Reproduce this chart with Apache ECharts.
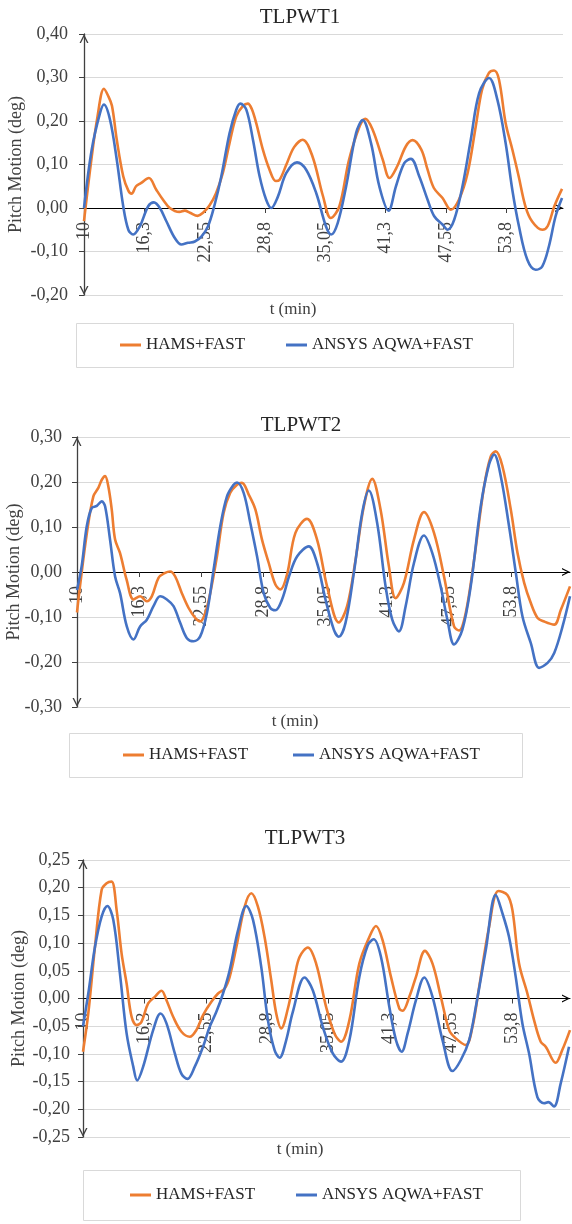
<!DOCTYPE html>
<html>
<head>
<meta charset="utf-8">
<script src="https://cdn.jsdelivr.net/npm/echarts@6/dist/echarts.min.js"></script>
<style>
html,body{margin:0;padding:0;background:#fff;}
#c{width:572px;height:1224px;}
</style>
</head>
<body>
<div id="c"></div>
<script>
// ---------- DATA ----------
const chartTitles = ['TLPWT1', 'TLPWT2', 'TLPWT3'];
const seriesNames = ['HAMS+FAST', 'ANSYS AQWA+FAST'];
const xTickValues = [10, 16.3, 22.55, 28.8, 35.05, 41.3, 47.55, 53.8];
const xTickLabels = ['10', '16,3', '22,55', '28,8', '35,05', '41,3', '47,55', '53,8'];
const xMin = 10, xMax = 59.7;
const yMin = [-0.2, -0.3, -0.25];
const yMax = [0.4, 0.3, 0.25];
const yStep = [0.1, 0.1, 0.05];

// TLPWT1
const t1Hams = [10,10.7,11.4,12.07,12.5,12.9,13.4,14.07,14.6,14.93,15.4,15.9,16.73,17.5,18.2,18.9,19.9,20.45,21.0,21.8,22.35,23.0,23.7,24.4,25.1,25.8,26.5,27.0,27.4,27.87,28.56,29.25,29.9,30.3,31.0,31.8,32.7,33.7,34.8,35.6,36.5,37.5,38.6,39.2,39.95,41.0,41.7,42.5,43.4,44.1,45.0,45.65,46.3,47.2,48.06,48.9,49.8,50.65,51.3,52.0,52.55,53.06,53.75,54.45,55.1,55.8,56.5,57.55,58.1,58.8,59.6];
const v1Hams = [-0.03,0.10,0.21,0.274,0.258,0.235,0.157,0.073,0.04,0.033,0.05,0.057,0.069,0.042,0.019,0.0,-0.009,-0.006,-0.011,-0.018,-0.011,0.005,0.034,0.08,0.149,0.211,0.235,0.24,0.228,0.195,0.134,0.088,0.062,0.065,0.1,0.14,0.157,0.119,0.027,-0.023,0.004,0.111,0.188,0.205,0.18,0.111,0.069,0.096,0.142,0.156,0.134,0.088,0.046,0.023,-0.004,0.019,0.08,0.188,0.272,0.31,0.316,0.295,0.195,0.134,0.073,0.004,-0.031,-0.05,-0.042,0.004,0.044];
const t1Aqwa = [10,10.8,11.66,12.07,12.7,13.4,14.07,14.6,15.1,15.8,16.66,17.25,17.87,18.56,19.42,20.1,20.8,21.5,22.2,22.87,23.56,24.25,25.1,25.8,26.22,26.84,27.53,28.22,28.9,29.43,30.1,30.98,32.1,33.05,34.1,35.1,35.64,36.33,37.2,38.23,38.92,39.78,40.64,41.6,42.37,43.23,43.92,44.78,45.65,46.34,47.2,47.72,48.41,49.27,50.13,51.0,52.03,52.89,53.75,54.44,55.13,56.0,56.86,57.55,58.24,58.93,59.6];
const v1Aqwa = [0.0,0.134,0.218,0.238,0.203,0.111,0.004,-0.05,-0.061,-0.042,0.004,0.013,0.0,-0.031,-0.069,-0.084,-0.08,-0.077,-0.065,-0.042,0.008,0.073,0.172,0.226,0.24,0.226,0.157,0.073,0.019,0.0,0.025,0.08,0.105,0.088,0.034,-0.042,-0.061,-0.034,0.05,0.172,0.202,0.149,0.05,-0.006,0.05,0.103,0.113,0.073,0.019,-0.019,-0.038,-0.05,-0.027,0.05,0.157,0.264,0.299,0.249,0.149,0.042,-0.042,-0.119,-0.142,-0.134,-0.088,-0.019,0.023];

// TLPWT2
const t2Hams = [10,10.3,11.0,11.65,12.15,12.5,12.83,13.16,13.5,13.84,14.34,15.0,15.7,16.36,17.04,17.54,18.22,18.89,19.39,19.9,20.57,21.25,21.92,22.42,22.93,23.43,24.11,24.78,25.45,26.13,26.63,27.31,27.98,28.65,29.33,30.0,30.5,31.18,32.02,33.19,34.2,35.21,36.39,37.23,38.08,38.92,39.76,40.6,41.44,42.12,42.96,43.97,44.98,45.99,47.0,48.01,48.51,49.19,50.03,51.04,51.71,52.22,52.89,53.73,54.41,55.08,55.75,56.43,57.1,58.11,58.78,59.7];
const v2Hams = [-0.09,-0.032,0.087,0.168,0.187,0.205,0.213,0.19,0.139,0.072,0.042,-0.017,-0.061,-0.054,-0.065,-0.054,-0.013,-0.002,0.001,-0.01,-0.047,-0.08,-0.102,-0.11,-0.091,-0.047,0.035,0.131,0.176,0.194,0.198,0.172,0.139,0.072,0.02,-0.028,-0.039,-0.005,0.087,0.118,0.072,-0.032,-0.112,-0.076,0.027,0.146,0.207,0.139,0.013,-0.058,-0.024,0.072,0.133,0.087,-0.01,-0.121,-0.13,-0.091,0.027,0.19,0.257,0.268,0.235,0.139,0.042,-0.024,-0.069,-0.102,-0.11,-0.117,-0.084,-0.032];
const t2Aqwa = [10,10.47,10.98,11.48,12.0,12.49,12.83,13.33,13.84,14.34,15.02,15.69,16.36,17.04,17.71,18.38,19.06,19.73,20.4,21.08,21.75,22.42,23.1,23.77,24.44,25.12,25.79,26.13,26.8,27.47,28.15,28.82,29.49,30.0,30.67,31.4,32.2,33.36,34.2,35.05,35.89,36.39,37.07,37.91,38.75,39.42,40.26,41.11,41.78,42.45,43.13,43.97,44.98,45.82,46.66,47.34,48.01,48.85,49.69,50.7,51.54,52.05,52.72,53.56,54.24,54.91,55.75,56.59,57.44,58.11,58.95,59.7];
const v2Aqwa = [-0.04,0.013,0.101,0.142,0.147,0.157,0.146,0.072,-0.01,-0.047,-0.121,-0.15,-0.121,-0.106,-0.076,-0.054,-0.061,-0.076,-0.113,-0.147,-0.154,-0.143,-0.091,0.005,0.101,0.168,0.194,0.199,0.176,0.109,0.035,-0.047,-0.08,-0.085,-0.061,-0.008,0.035,0.057,0.02,-0.061,-0.128,-0.144,-0.113,-0.002,0.131,0.181,0.109,-0.032,-0.106,-0.132,-0.076,0.02,0.081,0.042,-0.032,-0.106,-0.161,-0.128,-0.032,0.146,0.239,0.261,0.213,0.101,-0.002,-0.099,-0.158,-0.213,-0.202,-0.18,-0.121,-0.054];

// TLPWT3
const t3Hams = [10,10.54,11.22,11.9,12.41,12.92,13.43,13.94,14.45,14.96,15.47,15.97,16.65,17.33,18.01,18.52,19.2,20.05,20.9,21.57,22.25,23.1,23.78,24.46,24.97,25.65,26.5,27.18,27.85,28.53,29.21,29.72,30.23,30.91,31.59,32.1,32.95,33.79,34.81,35.66,36.34,37.19,38.2,39.22,39.9,40.58,41.43,42.28,42.62,43.3,43.98,44.89,45.67,46.52,47.37,48.05,49.07,49.75,50.43,51.45,52.4,53.31,53.82,54.5,55.35,56.03,56.71,57.22,58.24,58.91,59.7];
const v3Hams = [-0.096,-0.027,0.093,0.196,0.208,0.211,0.16,0.081,0.027,-0.033,-0.048,-0.042,-0.009,0.003,0.014,-0.003,-0.033,-0.06,-0.069,-0.057,-0.03,-0.006,0.009,0.018,0.039,0.093,0.166,0.19,0.166,0.111,0.033,-0.027,-0.054,-0.018,0.039,0.075,0.092,0.063,-0.015,-0.063,-0.078,-0.039,0.063,0.111,0.131,0.105,0.039,-0.018,-0.022,0.003,0.039,0.086,0.063,0.003,-0.057,-0.072,-0.084,-0.051,0.021,0.13,0.194,0.187,0.16,0.063,0.009,-0.039,-0.078,-0.087,-0.116,-0.093,-0.057];
const t3Aqwa = [10,10.54,11.22,11.9,12.48,13.09,13.77,14.45,15.13,15.53,16.14,17.16,17.91,18.52,19.37,20.05,20.66,21.41,22.25,22.93,23.61,24.29,24.97,25.82,26.67,27.35,28.19,28.87,29.55,30.06,30.74,31.4,32.61,33.45,34.47,35.49,36.34,37.19,38.2,39.06,39.67,40.41,41.26,41.94,42.52,43.13,43.98,44.83,45.67,46.69,47.71,48.56,49.41,50.09,51.1,52.12,52.8,53.48,54.16,54.84,55.52,56.37,57.05,57.49,58.06,58.74,59.6];
const v3Aqwa = [-0.05,0.009,0.093,0.148,0.167,0.142,0.045,-0.063,-0.123,-0.148,-0.123,-0.057,-0.027,-0.045,-0.099,-0.136,-0.145,-0.123,-0.087,-0.051,-0.024,0.009,0.051,0.123,0.167,0.142,0.057,-0.039,-0.093,-0.107,-0.075,-0.025,0.038,0.015,-0.051,-0.099,-0.114,-0.075,0.039,0.096,0.107,0.075,-0.015,-0.075,-0.096,-0.063,-0.003,0.038,0.003,-0.075,-0.131,-0.111,-0.075,-0.015,0.087,0.187,0.154,0.111,0.039,-0.045,-0.099,-0.178,-0.189,-0.187,-0.195,-0.154,-0.087];

// ---------- BUILD ----------
const zip = (ts, vs) => ts.map((t, i) => [t, vs[i]]);
const hamsData = [zip(t1Hams, v1Hams), zip(t2Hams, v2Hams), zip(t3Hams, v3Hams)];
const aqwaData = [zip(t1Aqwa, v1Aqwa), zip(t2Aqwa, v2Aqwa), zip(t3Aqwa, v3Aqwa)];

const FONT = "'Liberation Serif','Times New Roman',serif";
const TXT = '#404040';
const ORANGE = '#ED7D31', BLUE = '#4472C4';
const chevron = 'path://M0,10 L5,0 L10,10 L8.4,10 L5,3.2 L1.6,10 Z';

const layout = [
  {grid:{left:84, top:34, right:9, height:261}, nameGap:59, labMargin:16, title:[300,17], xname:[293,310], box:[76,323,437,44], leg:[120,286,345]},
  {grid:{left:77, top:437, right:2, height:270}, nameGap:54, labMargin:15, title:[301,425], xname:[295,722], box:[69,733,453,44], leg:[123,293,755]},
  {grid:{left:83, top:860, right:2, height:277}, nameGap:55, labMargin:13, title:[305,838], xname:[300,1150], box:[83,1170,437,50], leg:[130,296,1195]}
];

const grids = [], xAxes = [], yAxes = [], series = [], legends = [], graphics = [];
layout.forEach((L, i) => {
  grids.push(Object.assign({containLabel:false, outerBoundsMode:'none'}, L.grid));
  // distance (px) from plot bottom up to the zero line, so the category axis sits on y = 0
  const zeroOffset = -(-yMin[i]) / (yMax[i] - yMin[i]) * L.grid.height;
  xAxes.push({
    type:'value', gridIndex:i, min:xMin, max:xMax, position:'bottom', offset:zeroOffset,
    axisLine:{show:true, onZero:false, lineStyle:{color:'#000', width:1},
      symbol:['none', chevron], symbolSize:[9,8], symbolOffset:[0,-4]},
    axisTick:{show:true, customValues:xTickValues, length:5, lineStyle:{color:'#404040'}},
    axisLabel:{show:true, customValues:xTickValues, rotate:90, margin:14,
      fontFamily:FONT, fontSize:18, color:TXT,
      formatter:(v) => { const k = xTickValues.findIndex(x => Math.abs(x - v) < 1e-6); return k >= 0 ? xTickLabels[k] : ''; }},
    splitLine:{show:false}
  });
  yAxes.push({
    type:'value', gridIndex:i, min:yMin[i], max:yMax[i], interval:yStep[i],
    name:'Pitch Motion (deg)', nameLocation:'middle', nameGap:L.nameGap, nameMoveOverlap:false,
    nameTextStyle:{fontFamily:FONT, fontSize:18, color:TXT},
    axisLine:{show:true, onZero:false, lineStyle:{color:'#404040', width:1.3},
      symbol:[chevron, chevron], symbolSize:[10,9], symbolOffset:[4.5,-4.5]},
    axisTick:{show:true, length:5, lineStyle:{color:'#404040'}},
    axisLabel:{fontFamily:FONT, fontSize:18, color:TXT, margin:L.labMargin,
      formatter:(v) => { if (Math.abs(v) < 1e-9) v = 0; return v.toFixed(2).replace('.', ','); }},
    splitLine:{show:true, lineStyle:{color:'#d9d9d9', width:1}}
  });
  series.push({
    name:seriesNames[0], type:'line', xAxisIndex:i, yAxisIndex:i, data:hamsData[i],
    showSymbol:false, smooth:0.35, lineStyle:{color:ORANGE, width:2.6}, itemStyle:{color:ORANGE}, z:2
  });
  series.push({
    name:seriesNames[1], type:'line', xAxisIndex:i, yAxisIndex:i, data:aqwaData[i],
    showSymbol:false, smooth:0.35, lineStyle:{color:BLUE, width:2.6}, itemStyle:{color:BLUE}, z:3
  });
  const legText = {fontFamily:FONT, fontSize:17, color:'#262626', lineHeight:20};
  legends.push({data:[seriesNames[0]], left:L.leg[0], top:L.leg[2]-10, padding:0, icon:'rect', itemWidth:21, itemHeight:3, textStyle:legText, selectedMode:false});
  legends.push({data:[seriesNames[1]], left:L.leg[1], top:L.leg[2]-10, padding:0, icon:'rect', itemWidth:21, itemHeight:3, textStyle:legText, selectedMode:false});
  graphics.push({type:'rect', shape:{x:L.box[0]+0.5, y:L.box[1]+0.5, width:L.box[2], height:L.box[3]}, style:{fill:'none', stroke:'#d9d9d9', lineWidth:1}, z:-1});
  graphics.push({type:'text', x:L.title[0], y:L.title[1], style:{text:chartTitles[i], font:"21px " + FONT, fill:'#262626', textAlign:'center', textVerticalAlign:'middle'}});
  graphics.push({type:'text', x:L.xname[0], y:L.xname[1], style:{text:'t (min)', font:"17px " + FONT, fill:TXT, textAlign:'center', textVerticalAlign:'middle'}});
});

const chart = echarts.init(document.getElementById('c'), null, {renderer:'canvas'});
chart.setOption({
  animation:false,
  backgroundColor:'#fff',
  grid:grids, xAxis:xAxes, yAxis:yAxes, series:series, legend:legends, graphic:graphics
});
</script>
</body>
</html>
